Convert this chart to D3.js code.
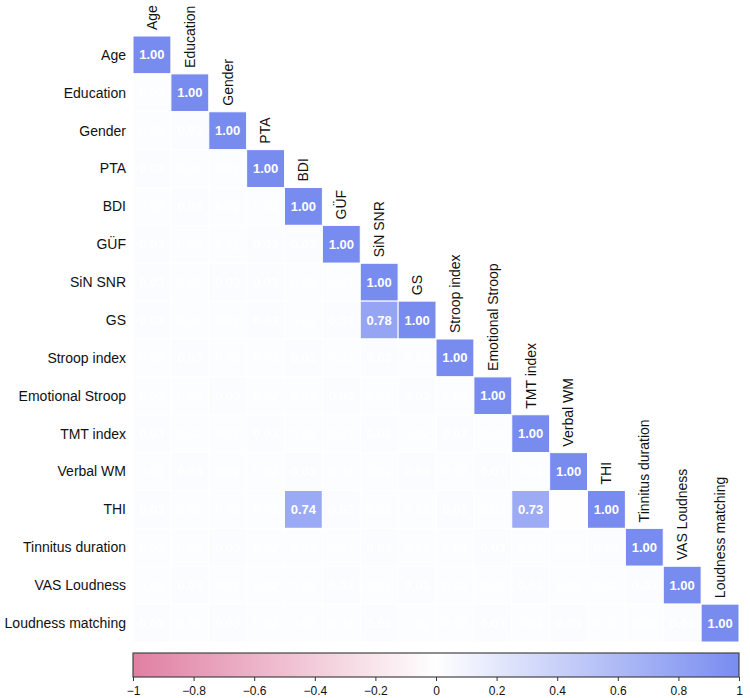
<!DOCTYPE html>
<html>
<head>
<meta charset="utf-8">
<script src="https://cdn.jsdelivr.net/npm/d3@7"></script>
<style>
  body { margin: 0; background: #fff; }
  svg { font-family: "Liberation Sans", Arial, Helvetica, sans-serif; }
</style>
</head>
<body>
<svg id="chart" width="750" height="698"></svg>
<script>
const variables = ["Age", "Education", "Gender", "PTA", "BDI", "GÜF", "SiN SNR", "GS",
  "Stroop index", "Emotional Stroop", "TMT index", "Verbal WM", "THI",
  "Tinnitus duration", "VAS Loudness", "Loudness matching"];

// lower triangle of the correlation matrix, row by row (diagonal included)
const corrRows = [
  [1.00],
  [0.02, 1.00],
  [0.02, 0.03, 1.00],
  [0.03, 0.02, 0.02, 1.00],
  [0.02, 0.03, 0.02, 0.02, 1.00],
  [0.03, 0.02, 0.02, 0.03, 0.03, 1.00],
  [0.03, 0.02, 0.03, 0.03, 0.02, 0.02, 1.00],
  [0.03, 0.02, 0.02, 0.03, 0.02, 0.03, 0.78, 1.00],
  [0.02, 0.03, 0.02, 0.02, 0.03, 0.02, 0.03, 0.02, 1.00],
  [0.02, 0.02, 0.03, 0.02, 0.02, 0.03, 0.02, 0.03, 0.02, 1.00],
  [0.03, 0.02, 0.02, 0.03, 0.02, 0.02, 0.03, 0.02, 0.03, 0.02, 1.00],
  [0.02, 0.03, 0.02, 0.02, 0.03, 0.02, 0.02, 0.03, 0.02, 0.03, 0.02, 1.00],
  [0.03, 0.02, 0.02, 0.02, 0.74, 0.03, 0.02, 0.02, 0.03, 0.02, 0.73, 0.01, 1.00],
  [0.02, 0.02, 0.03, 0.02, 0.02, 0.02, 0.03, 0.02, 0.02, 0.03, 0.02, 0.02, 0.03, 1.00],
  [0.02, 0.03, 0.02, 0.02, 0.02, 0.03, 0.02, 0.03, 0.02, 0.02, 0.03, 0.02, 0.02, 0.03, 1.00],
  [0.03, 0.02, 0.03, 0.02, 0.02, 0.02, 0.03, 0.02, 0.02, 0.03, 0.02, 0.03, 0.02, 0.02, 0.03, 1.00]
];

const legendTicks = [-1, -0.8, -0.6, -0.4, -0.2, 0, 0.2, 0.4, 0.6, 0.8, 1];

const gridLeft = 133, gridTop = 36, gridSize = 606;
const svg = d3.select("#chart");

const x = d3.scaleBand().domain(variables).range([gridLeft, gridLeft + gridSize]);
const y = d3.scaleBand().domain(variables).range([gridTop, gridTop + gridSize]);
const color = d3.scaleLinear()
  .domain([-1, 0, 1])
  .range(["#e07fa2", "#ffffff", "#788cf0"]);

const cells = [];
corrRows.forEach((row, i) => {
  row.forEach((v, j) => cells.push({ r: variables[i], c: variables[j], v: v }));
});

const g = svg.append("g");
const cell = g.selectAll("g.cell")
  .data(cells)
  .enter()
  .append("g")
  .attr("class", "cell")
  .attr("transform", d => "translate(" + x(d.c) + "," + y(d.r) + ")");

cell.append("rect")
  .attr("width", x.bandwidth())
  .attr("height", y.bandwidth())
  .style("fill", d => color(d.v))
  .style("stroke", "#ffffff")
  .style("stroke-width", 1);

cell.append("text")
  .attr("x", x.bandwidth() / 2)
  .attr("y", y.bandwidth() / 2)
  .attr("dy", "0.35em")
  .attr("text-anchor", "middle")
  .style("font-size", "13px")
  .style("font-weight", "bold")
  .style("fill", "#ffffff")
  .text(d => d.v.toFixed(2));

// row labels
svg.append("g").selectAll("text")
  .data(variables)
  .enter()
  .append("text")
  .attr("x", 126)
  .attr("y", d => y(d) + y.bandwidth() / 2)
  .attr("dy", "0.35em")
  .attr("text-anchor", "end")
  .style("font-size", "14px")
  .style("fill", "#111")
  .text(d => d);

// column labels, above the diagonal cell
svg.append("g").selectAll("text")
  .data(variables)
  .enter()
  .append("text")
  .attr("transform", d => "translate(" + (x(d) + x.bandwidth() / 2) + "," + (y(d) - 6) + ") rotate(-90)")
  .attr("dy", "0.35em")
  .attr("text-anchor", "start")
  .style("font-size", "14px")
  .style("fill", "#111")
  .text(d => d);

// colour bar
const barTop = 653, barH = 24;
const lx = d3.scaleLinear().domain([-1, 1]).range([gridLeft, gridLeft + gridSize]);
const defs = svg.append("defs");
const grad = defs.append("linearGradient").attr("id", "grad");
grad.selectAll("stop")
  .data(color.domain())
  .enter()
  .append("stop")
  .attr("offset", d => ((d + 1) / 2 * 100) + "%")
  .attr("stop-color", d => color(d));

svg.append("rect")
  .attr("x", gridLeft)
  .attr("y", barTop)
  .attr("width", gridSize)
  .attr("height", barH)
  .style("fill", "url(#grad)")
  .style("stroke", "#444")
  .style("stroke-width", 1.2);

svg.append("g")
  .attr("transform", "translate(0," + (barTop + barH) + ")")
  .call(d3.axisBottom(lx).tickValues(legendTicks).tickSize(4).tickPadding(5).tickFormat(d3.format("")))
  .call(a => a.select(".domain").remove())
  .call(a => a.selectAll("line").style("stroke", "#333"))
  .call(a => a.selectAll("text")
    .style("font-size", "12px")
    .style("fill", "#111")
    .style("font-family", "'Liberation Sans', Arial, sans-serif"));
</script>
</body>
</html>
